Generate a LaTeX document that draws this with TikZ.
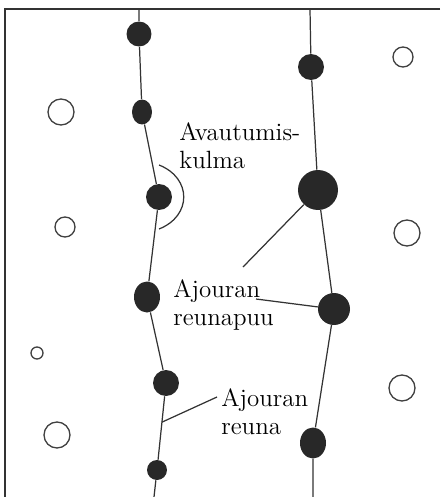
\documentclass[tikz,border=0pt]{standalone}
\usetikzlibrary{shapes.geometric, calc}
\definecolor{knotgray}{RGB}{40,40,40}

\begin{document}
\begin{tikzpicture}[
x=0.02cm,
y=-0.02cm,
knot/.style={
	ellipse,
	fill=knotgray,
	draw=none,
	inner sep=0pt
},
hole/.style={
	circle,
	draw=black!75,
	line width=0.75pt,
	inner sep=0pt
},
edge/.style={
	draw=black!80,
	line width=0.7pt
},
note/.style={
	font=\fontsize{14.2}{15.5}\selectfont,
	align=left,
	inner sep=0pt,
	anchor=base west
}
]
\useasboundingbox (0,0) rectangle (440,497);

% Frame
\coordinate (Frame corner) at (5,9);
\draw[edge] (440,9) -- (Frame corner) -- (5,497);

% Left edge knots
\coordinate (Left top) at (139,9);
\coordinate (Left bottom) at (154,497);
\node [knot, minimum width=0.5cm, minimum height=0.5cm] (Left 1) at (139,34) {};
\node [knot, minimum width=0.4cm, minimum height=0.5cm] (Left 2) at (142,112) {};
\node [knot, minimum width=0.52cm, minimum height=0.52cm] (Left 3) at (159,197) {};
\node [knot, minimum width=0.52cm, minimum height=0.62cm] (Left 4) at (147,297) {};
\node [knot, minimum width=0.52cm, minimum height=0.52cm] (Left 5) at (166,383) {};
\node [knot, minimum width=0.4cm, minimum height=0.4cm] (Left 6) at (157,470) {};
\draw[edge] (Left top) -- (Left 1) -- (Left 2) -- (Left 3) -- (Left 4) -- (Left 5) -- (Left 6) -- (Left bottom);

% Right edge knots
\coordinate (Right top) at (310,9);
\coordinate (Right bottom) at (313,497);
\node [knot, minimum width=0.52cm, minimum height=0.52cm] (Right 1) at (311,67) {};
\node [knot, minimum width=0.8cm, minimum height=0.8cm] (Right 2) at (318,190) {};
\node [knot, minimum width=0.64cm, minimum height=0.64cm] (Right 3) at (334,309) {};
\node [knot, minimum width=0.52cm, minimum height=0.62cm] (Right 4) at (313,443) {};
\draw[edge] (Right top) -- (Right 1) -- (Right 2) -- (Right 3) -- (Right 4) -- (Right bottom);

% Knots outside the edges
\node [hole, minimum size=0.52cm] (Hole 1) at (61,112) {};
\node [hole, minimum size=0.4cm] (Hole 2) at (65,227) {};
\node [hole, minimum size=0.24cm] (Hole 3) at (37,353) {};
\node [hole, minimum size=0.52cm] (Hole 4) at (57,435) {};
\node [hole, minimum size=0.4cm] (Hole 5) at (403,57) {};
\node [hole, minimum size=0.52cm] (Hole 6) at (407,233) {};
\node [hole, minimum size=0.52cm] (Hole 7) at (402,388) {};

% Angle
\coordinate (Angle start) at (159,165);
\coordinate (Angle end) at (159,229);
\draw[edge] (Angle start) .. controls (192,178) and (192,216) .. (Angle end);

% Labels (base = last line)
\node [note] (Angle) at (179,168) {Avautumis-\\kulma};
\node [note] (Edge tree) at (173,325) {Ajouran\\reunapuu};
\node [note] (Edge) at (221,434) {Ajouran\\reuna};

% Leaders
\coordinate (Tree tip) at (243,267);
\coordinate (Tree foot) at (256,299);
\coordinate (Edge foot) at (217,397);
\coordinate (Edge tip) at ($(Left 5)!0.45!(Left 6)$);
\draw[edge] (Right 2) -- (Tree tip);
\draw[edge] (Tree foot) -- (Right 3);
\draw[edge] (Edge foot) -- (Edge tip);

\end{tikzpicture}
\end{document}
